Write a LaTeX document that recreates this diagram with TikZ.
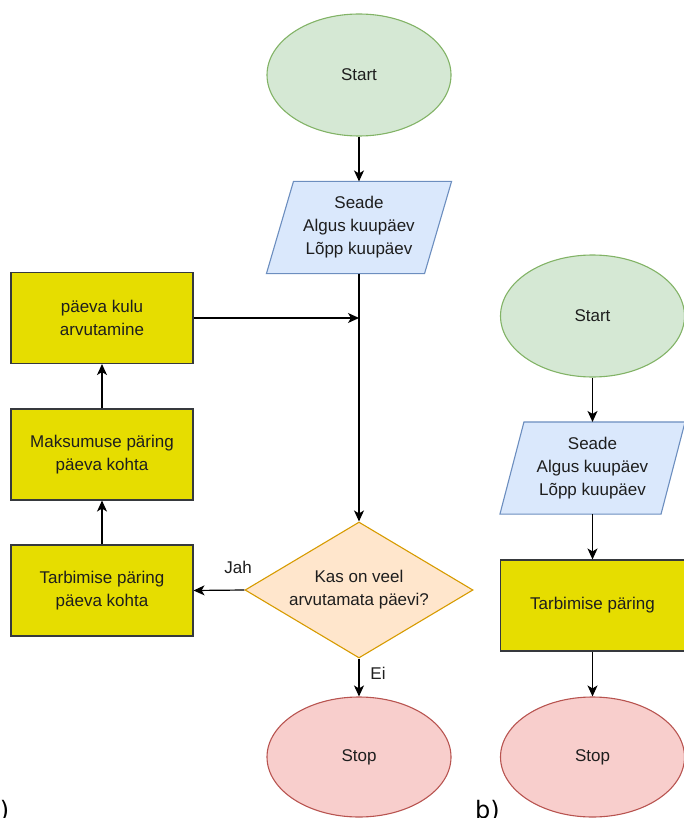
\documentclass[tikz,border=0pt]{standalone}
\usepackage{fontspec}
\setmainfont{Liberation Sans}
\newfontfamily\labelfont{DejaVu Sans}
\usetikzlibrary{shapes.geometric,arrows.meta,backgrounds,calc}
\definecolor{startfill}{HTML}{D5E8D4}
\definecolor{startdraw}{HTML}{82B366}
\definecolor{parafill}{HTML}{DAE8FC}
\definecolor{paradraw}{HTML}{6C8EBF}
\definecolor{boxfill}{HTML}{E6DD00}
\definecolor{boxdraw}{HTML}{36393D}
\definecolor{decfill}{HTML}{FFE6CC}
\definecolor{decdraw}{HTML}{D79B00}
\definecolor{stopfill}{HTML}{F8CECC}
\definecolor{stopdraw}{HTML}{B85450}
\definecolor{txt}{HTML}{1E1E1E}
\tikzset{
  base/.style={font=\fontsize{17}{23}\selectfont, text=txt, align=center, line width=1.1pt},
  startnode/.style={base, ellipse, draw=startdraw, fill=startfill, minimum width=184pt, minimum height=122pt, inner sep=0pt},
  stopnode/.style={base, ellipse, draw=stopdraw, fill=stopfill, minimum width=184pt, minimum height=120pt, inner sep=0pt},
  paranode/.style={base, rectangle, minimum width=184pt, minimum height=91pt, inner sep=0pt},
  parashape/.style={draw=paradraw, fill=parafill, line width=1.1pt},
  boxnode/.style={base, rectangle, draw=boxdraw, fill=boxfill, minimum width=182pt, minimum height=91pt, inner sep=0pt},
  decnode/.style={base, diamond, draw=decdraw, fill=decfill, minimum width=228pt, minimum height=136pt, inner sep=0pt, aspect=1.68},
  arr/.style={line width=1.2pt, draw=black, -{Stealth[length=11pt,width=10pt,inset=3pt]}},
  lbl/.style={font=\fontsize{17}{20}\selectfont, text=txt},
  sublbl/.style={font=\labelfont\fontsize{24}{28}\selectfont, text=black, inner sep=0pt}
}
\newcommand{\drawpara}[2]{%
  \begin{scope}[on background layer]
    \draw[parashape] ($(#1.north west)+(#2,0)$) -- (#1.north east) -- ($(#1.south east)-(#2,0)$) -- (#1.south west) -- cycle;
  \end{scope}}
\begin{document}
\begin{tikzpicture}[x=1pt,y=-1pt]
\useasboundingbox (0,0) rectangle (683,818);
% ---- diagram a ----
\node[startnode] (sa) at (359,75) {Start};
\node[paranode] (pa) at (359,227.5) {Seade\\Algus kuupäev\\Lõpp kuupäev};
\drawpara{pa}{27}
\node[decnode] (da) at (359,590) {Kas on veel\\arvutamata päevi?};
\node[stopnode] (ea) at (359,757) {Stop};
\node[boxnode] (k1) at (102,318) {päeva kulu\\arvutamine};
\node[boxnode] (k2) at (102,454.5) {Maksumuse päring\\päeva kohta};
\node[boxnode] (k3) at (102,590.5) {Tarbimise päring\\päeva kohta};
\draw[arr] (sa) -- (pa);
\draw[arr] (pa) -- (da);
\draw[arr] (k1.east) -- (k1.east -| pa.south);
\draw[arr] (da.west) -- (k3.east);
\draw[arr] (k3) -- (k2);
\draw[arr] (k2) -- (k1);
\draw[arr] (da) -- (ea);
\node[lbl] (jah) at (238,567) {Jah};
\node[lbl] (ei) at (378,673) {Ei};
\node[sublbl, anchor=base east] (la) at (9.5,818) {a)};
% ---- diagram b ----
\node[startnode] (sb) at (592.5,316) {Start};
\node[paranode] (pb) at (592.5,468) {Seade\\Algus kuupäev\\Lõpp kuupäev};
\drawpara{pb}{24}
\node[boxnode, minimum width=184pt] (kb) at (592.5,605.5) {Tarbimise päring};
\node[stopnode] (eb) at (592.5,757) {Stop};
\draw[arr] (sb) -- (pb);
\draw[arr] (pb) -- (kb);
\draw[arr] (kb) -- (eb);
\node[sublbl, anchor=base west] (lb) at (475,818) {b)};
\end{tikzpicture}
\end{document}
